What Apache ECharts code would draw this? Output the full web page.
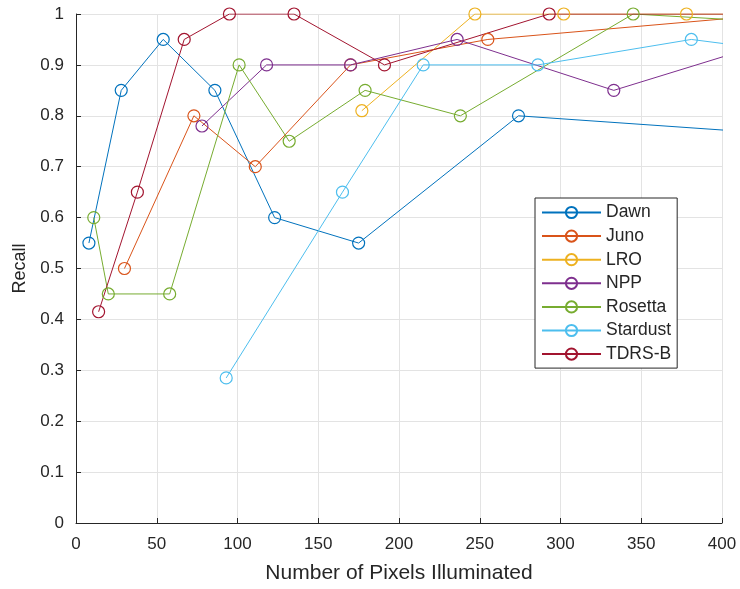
<!DOCTYPE html>
<html>
<head>
<meta charset="utf-8">
<script src="https://cdn.jsdelivr.net/npm/echarts@6/dist/echarts.min.js"></script>
<style>
  html, body { margin: 0; padding: 0; background: #fff; }
  #chart { width: 740px; height: 589px; }
</style>
</head>
<body>
<div id="chart"></div>
<script>
  // [pixels illuminated, recall]
  const dawn = [[8, 0.55], [28, 0.85], [54, 0.95], [86, 0.85], [123, 0.6], [175, 0.55], [274, 0.8], [500, 0.75]]
  const juno = [[30, 0.5], [73, 0.8], [111, 0.7], [170, 0.9], [255, 0.95], [436, 1.0]]
  const lro = [[177, 0.81], [247, 1.0], [302, 1.0], [378, 1.0], [450, 1.0]]
  const npp = [[78, 0.78], [118, 0.9], [170, 0.9], [236, 0.95], [333, 0.85], [420, 0.935]]
  const rosetta = [[11, 0.6], [20, 0.45], [58, 0.45], [101, 0.9], [132, 0.75], [179, 0.85], [238, 0.8], [345, 1.0], [455, 0.98]]
  const stardust = [[93, 0.285], [165, 0.65], [215, 0.9], [286, 0.9], [381, 0.95], [430, 0.93]]
  const tdrsb = [[14, 0.415], [38, 0.65], [67, 0.95], [95, 1.0], [135, 1.0], [191, 0.9], [293, 1.0], [450, 1.0]]

  const seriesNames = ['Dawn', 'Juno', 'LRO', 'NPP', 'Rosetta', 'Stardust', 'TDRS-B']
  const seriesData = [dawn, juno, lro, npp, rosetta, stardust, tdrsb]
  const colors = ['#0072BD', '#D95319', '#EDB120', '#7E2F8E', '#77AC30', '#4DBEEE', '#A2142F']

  const font = '"Liberation Sans", Arial, sans-serif'
  const chart = echarts.init(document.getElementById('chart'))

  chart.setOption({
    animation: false,
    color: colors,
    textStyle: { fontFamily: font },
    grid: { left: 76, right: 18, top: 14, bottom: 65, containLabel: false },
    legend: {
      orient: 'vertical',
      left: 535,
      top: 198,
      padding: [5.5, 6, 5, 6],
      itemGap: 5.6,
      itemWidth: 59,
      itemHeight: 14,
      borderColor: '#262626',
      borderWidth: 1,
      backgroundColor: '#fff',
      textStyle: { fontFamily: font, fontSize: 17.5, lineHeight: 18, color: '#262626' },
      data: seriesNames
    },
    xAxis: {
      type: 'value',
      min: 0,
      max: 400,
      interval: 50,
      name: 'Number of Pixels Illuminated',
      nameLocation: 'middle',
      nameGap: 40,
      nameTextStyle: { fontFamily: font, fontSize: 21, color: '#262626' },
      axisLine: { show: true, onZero: false, lineStyle: { color: '#262626', width: 1 } },
      axisTick: { show: true, inside: true, length: 5, lineStyle: { color: '#262626' } },
      axisLabel: { fontFamily: font, fontSize: 17, color: '#262626', margin: 13 },
      splitLine: { show: true, lineStyle: { color: '#e3e3e3', width: 1 } }
    },
    yAxis: {
      type: 'value',
      min: 0,
      max: 1,
      interval: 0.1,
      name: 'Recall',
      nameLocation: 'middle',
      nameGap: 44,
      nameTextStyle: { fontFamily: font, fontSize: 18, color: '#262626' },
      axisLine: { show: true, lineStyle: { color: '#262626', width: 1 } },
      axisTick: { show: true, inside: true, length: 5, lineStyle: { color: '#262626' } },
      axisLabel: {
        fontFamily: font,
        fontSize: 17,
        color: '#262626',
        margin: 12,
        formatter: function (v) { return String(Math.round(v * 10) / 10) }
      },
      splitLine: { show: true, lineStyle: { color: '#e3e3e3', width: 1 } }
    },
    series: seriesNames.map(function (name, i) {
      return {
        name: name,
        type: 'line',
        data: seriesData[i],
        clip: true,
        symbol: 'circle',
        symbolSize: 12,
        showAllSymbol: true,
        lineStyle: { width: 1, color: colors[i] },
        itemStyle: { color: 'rgba(0,0,0,0)', borderWidth: 1.2, borderColor: colors[i] }
      }
    })
  })
</script>
</body>
</html>
